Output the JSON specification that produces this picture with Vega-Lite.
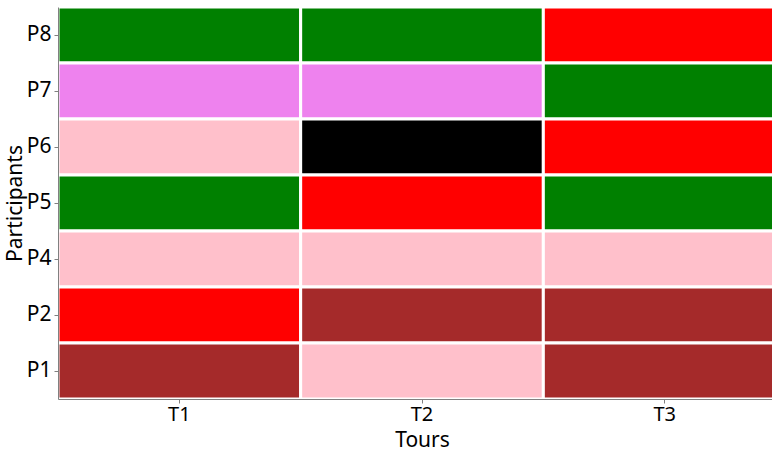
{
  "$schema": "https://vega.github.io/schema/vega-lite/v6.json",
  "width": 728,
  "height": 392,
  "autosize": {"type": "none"},
  "padding": {"left": 58, "top": 7, "right": 0, "bottom": 52},
  "background": "white",
  "config": {
    "font": "Noto Sans",
    "view": {"stroke": "#808080", "strokeWidth": 1}
  },
  "data": {
    "values": [
      {"participant": "P8", "tour": "T1", "c": "green"},
      {"participant": "P8", "tour": "T2", "c": "green"},
      {"participant": "P8", "tour": "T3", "c": "red"},
      {"participant": "P7", "tour": "T1", "c": "violet"},
      {"participant": "P7", "tour": "T2", "c": "violet"},
      {"participant": "P7", "tour": "T3", "c": "green"},
      {"participant": "P6", "tour": "T1", "c": "pink"},
      {"participant": "P6", "tour": "T2", "c": "black"},
      {"participant": "P6", "tour": "T3", "c": "red"},
      {"participant": "P5", "tour": "T1", "c": "green"},
      {"participant": "P5", "tour": "T2", "c": "red"},
      {"participant": "P5", "tour": "T3", "c": "green"},
      {"participant": "P4", "tour": "T1", "c": "pink"},
      {"participant": "P4", "tour": "T2", "c": "pink"},
      {"participant": "P4", "tour": "T3", "c": "pink"},
      {"participant": "P2", "tour": "T1", "c": "red"},
      {"participant": "P2", "tour": "T2", "c": "brown"},
      {"participant": "P2", "tour": "T3", "c": "brown"},
      {"participant": "P1", "tour": "T1", "c": "brown"},
      {"participant": "P1", "tour": "T2", "c": "pink"},
      {"participant": "P1", "tour": "T3", "c": "brown"}
    ]
  },
  "mark": {"type": "rect", "stroke": "white", "strokeWidth": 3},
  "encoding": {
    "x": {
      "field": "tour", "type": "nominal", "sort": ["T1", "T2", "T3"],
      "scale": {"paddingInner": 0, "paddingOuter": 0},
      "axis": {
        "title": "Tours", "titleFontSize": 21, "titleFontWeight": "normal", "titleColor": "black",
        "titlePadding": 5,
        "labelFontSize": 20, "labelColor": "black", "labelAngle": 0, "labelPadding": 1,
        "domainColor": "#808080", "tickColor": "#808080", "tickSize": 4, "grid": false
      }
    },
    "y": {
      "field": "participant", "type": "nominal", "sort": ["P8", "P7", "P6", "P5", "P4", "P2", "P1"],
      "scale": {"paddingInner": 0, "paddingOuter": 0},
      "axis": {
        "title": "Participants", "titleFontSize": 21, "titleFontWeight": "normal", "titleColor": "black",
        "titlePadding": 1,
        "labelFontSize": 21, "labelColor": "black", "labelPadding": 3,
        "domainColor": "#808080", "tickColor": "#808080", "tickSize": 4, "grid": false
      }
    },
    "color": {
      "field": "c", "type": "nominal",
      "scale": {
        "domain": ["green", "red", "violet", "pink", "black", "brown"],
        "range": ["#008000", "#ff0000", "#ee82ee", "#ffc0cb", "#000000", "#a52a2a"]
      },
      "legend": null
    }
  }
}
